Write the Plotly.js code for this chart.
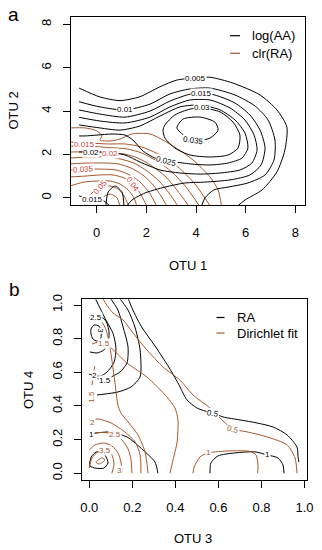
<!DOCTYPE html>
<html>
<head>
<meta charset="utf-8">
<script src="https://cdn.plot.ly/plotly-3.0.1.min.js"></script>
<style>html,body{margin:0;padding:0;background:#fff;}#chart{width:322px;height:550px;}</style>
</head>
<body>
<div id="chart"></div>
<script>
// ---------- Panel a: log(AA) contours (black) ----------
const aBlk005X = [-0.71,0.13,0.94,1.74,2.55,3.23,3.96,4.56,5.49,6.58,7.26,7.66,7.58,7.26,6.66,5.97,5.66];
const aBlk005Y = [5.06,4.65,4.48,4.66,5.12,5.43,5.52,5.56,5.29,4.74,4.05,3.26,2.20,1.19,0.36,-0.11,-0.40];
const aBlk010X = [-0.71,0.13,1.14,2.15,2.95,3.76,4.56,5.57,6.38,6.90,7.18,7.14,6.78,6.09,5.29,4.72,4.36,4.22];
const aBlk010Y = [4.43,4.19,4.05,4.32,4.79,5.02,5.06,4.74,4.23,3.59,2.66,1.74,1.05,0.68,0.49,0.36,-0.01,-0.40];
const aBlk015X = [-0.71,0.13,1.14,2.15,2.95,3.76,4.24,4.76,5.57,6.17,6.58,6.78,6.62,6.17,5.37,4.36,3.56,2.75,1.95,1.42,1.20];
const aBlk015Y = [4.05,3.86,3.72,4.00,4.46,4.78,4.83,4.74,4.37,3.82,3.12,2.29,1.51,1.05,0.82,0.72,0.68,0.49,0.22,-0.11,-0.40];
const aBlk015bX = [-0.71,-0.15,0.29,0.54];
const aBlk015bY = [0.08,-0.06,-0.15,-0.40];
const aBlk020X = [-0.71,0.13,1.14,2.15,2.95,3.76,4.56,5.37,5.97,6.34,6.46,6.25,5.77,4.97,4.16,3.36,2.55,1.74,1.14,0.33,-0.27,-0.71];
const aBlk020Y = [3.71,3.54,3.45,3.72,4.19,4.51,4.51,4.14,3.59,2.89,2.20,1.60,1.28,1.14,1.09,1.14,1.28,1.65,1.97,2.11,2.11,2.11];
const aBlk025X = [-0.71,0.13,0.94,1.74,2.55,3.36,4.16,4.97,5.57,5.97,6.09,5.85,5.29,4.56,3.76,3.15,2.83,2.35,1.87,1.46,1.14,0.62,0.01,-0.47,-0.71];
const aBlk025Y = [3.36,3.22,3.12,3.31,3.77,4.19,4.28,4.05,3.59,2.99,2.29,1.83,1.60,1.51,1.56,1.65,1.69,1.83,2.15,2.66,2.89,2.94,2.89,2.85,2.85];
const aBlk030X = [2.75,3.15,3.76,4.24,4.97,5.49,5.77,5.69,5.29,4.56,3.76,3.15,2.75,2.67,2.75];
const aBlk030Y = [3.36,3.82,4.09,4.14,3.96,3.49,2.89,2.29,1.97,1.88,1.97,2.29,2.75,3.12,3.36];
const aBlk035X = [3.23,3.48,4.16,4.76,4.89,4.56,4.16,3.56,3.23];
const aBlk035Y = [3.22,3.63,3.72,3.49,3.12,2.75,2.66,2.85,3.22];
const aBlkPeakX = [0.37,0.46,0.74,1.02,1.10];
const aBlkPeakY = [-0.40,0.26,0.54,0.26,-0.40];

// ---------- Panel a: clr(RA) contours (red/brown) ----------
const aRed005X = [-1.08,-0.47,0.01,0.21,0.13,0.54,0.94,1.42,2.15,3.07,3.88,4.56,4.89,5.03];
const aRed005Y = [3.22,3.22,3.08,2.85,2.66,2.62,2.71,2.94,2.94,2.39,1.74,0.96,0.36,-0.40];
const aRed010X = [-1.08,-0.27,0.46,1.14,1.82,2.55,3.27,3.96,4.58];
const aRed010Y = [2.57,2.52,2.48,2.48,2.34,1.97,1.42,0.63,-0.40];
const aRed015X = [-1.08,-0.27,0.54,1.22,1.82,2.43,3.03,3.60,4.15];
const aRed015Y = [2.38,2.38,2.31,2.25,2.06,1.69,1.19,0.49,-0.40];
const aRed020X = [-1.08,-0.27,0.54,1.10,1.66,2.23,2.75,3.23,3.72];
const aRed020Y = [2.11,2.11,2.06,2.02,1.83,1.46,1.00,0.36,-0.40];
const aRed025X = [-1.08,-0.27,0.42,0.94,1.50,2.03,2.51,2.91,3.28];
const aRed025Y = [1.83,1.88,1.88,1.79,1.60,1.23,0.77,0.22,-0.40];
const aRed030X = [-1.08,-0.35,0.33,0.86,1.38,1.86,2.27,2.59,2.83];
const aRed030Y = [1.56,1.60,1.60,1.56,1.37,1.05,0.59,0.08,-0.40];
const aRed035X = [-1.08,-0.35,0.21,0.78,1.26,1.70,2.07,2.27,2.42];
const aRed035Y = [1.28,1.32,1.32,1.28,1.09,0.77,0.31,-0.06,-0.40];
const aRed040X = [-1.08,-0.43,0.13,0.66,1.10,1.46,1.74,2.02];
const aRed040Y = [0.96,1.00,1.05,1.05,0.91,0.63,0.22,-0.40];
const aRed045X = [-1.08,-0.51,0.01,0.54,0.94,1.26,1.50,1.62];
const aRed045Y = [0.54,0.72,0.77,0.77,0.63,0.36,-0.01,-0.40];
const aRed050X = [-0.51,-0.27,0.13,0.54,0.86,1.10,1.30];
const aRed050Y = [-0.40,0.12,0.49,0.54,0.40,0.08,-0.40];
const aRed055X = [0.01,0.21,0.54,0.82,0.94];
const aRed055Y = [-0.40,-0.01,0.17,-0.01,-0.40];

// contour labels, panel a
const aBlkLabelText = ["0.005","0.01","0.015","0.03","0.035","0.025","0.02","0.015"];
const aBlkLabelX = [3.96,1.14,4.24,4.24,3.88,2.83,-0.22,-0.15];
const aBlkLabelY = [5.52,4.05,4.83,4.14,2.66,1.69,2.08,-0.06];
const aRedLabelText = ["0.015","0.02","0.035","0.05","0.04"];
const aRedLabelX = [-0.50,0.54,-0.55,0.13,1.46];
const aRedLabelY = [2.44,2.06,1.30,0.49,0.63];

// ---------- Panel b: RA contours (black) ----------
const bBlk3X = [0.008,0.022,0.045,0.054,0.054,0.036,0.017,0.008,0.008];
const bBlk3Y = [0.857,0.881,0.875,0.846,0.804,0.786,0.798,0.828,0.857];
const bBlk25X = [-0.001,0.031,0.064,0.082,0.092,0.087,0.068,0.036,0.003];
const bBlk25Y = [0.923,0.923,0.923,0.893,0.834,0.774,0.733,0.715,0.721];
const bBlk2X = [0.020,0.078,0.110,0.124,0.115,0.082,0.050,0.022,-0.001];
const bBlk2Y = [1.060,0.909,0.832,0.743,0.660,0.601,0.577,0.583,0.589];
const bBlk15X = [0.087,0.133,0.157,0.180,0.175,0.143,0.110,0.073,0.031,0.008];
const bBlk15Y = [1.060,0.970,0.869,0.750,0.655,0.602,0.578,0.554,0.566,0.584];
const bBlk1aX = [0.129,0.180,0.212,0.236,0.236,0.194,0.133,0.073,0.036];
const bBlk1aY = [1.060,0.970,0.869,0.733,0.573,0.513,0.483,0.471,0.465];
const bBlk05X = [0.175,0.194,0.240,0.305,0.366,0.412,0.454,0.500,0.538,0.575,0.621,0.700,0.779,0.854,0.919,0.965,0.970,0.974];
const bBlk05Y = [1.060,0.995,0.876,0.757,0.638,0.537,0.436,0.388,0.370,0.358,0.335,0.317,0.299,0.275,0.228,0.156,0.097,0.067];
const bBlk1bX = [0.561,0.565,0.598,0.677,0.770,0.826,0.877,0.900,0.905];
const bBlk1bY = [0.000,0.061,0.103,0.121,0.127,0.109,0.091,0.049,0.000];
const bBlk1cX = [0.003,0.036,0.096,0.175,0.250,0.305,0.319];
const bBlk1cY = [0.234,0.240,0.245,0.216,0.138,0.067,0.000];
const bBlkInX = [0.002,0.009,0.033,0.064,0.078,0.087,0.068,0.031,0.003,0.002];
const bBlkInY = [0.061,0.097,0.127,0.121,0.097,0.061,0.031,0.030,0.043,0.061];

// ---------- Panel b: Dirichlet fit contours (brown) ----------
const bDir05X = [0.054,0.078,0.110,0.157,0.203,0.268,0.342,0.421,0.482,0.561,0.621,0.668,0.733,0.826,0.919,0.956,0.965];
const bDir05Y = [1.060,1.006,0.953,0.911,0.834,0.733,0.632,0.554,0.465,0.388,0.311,0.263,0.246,0.216,0.169,0.091,0.000];
const bDirVX = [0.026,0.059,0.078,0.092,0.105,0.119,0.133,0.147,0.184,0.226,0.259,0.273];
const bDirVY = [0.923,0.899,0.851,0.780,0.673,0.542,0.406,0.358,0.299,0.228,0.127,0.000];
const bDirDX = [0.013,0.050,0.096,0.175,0.268,0.361,0.398,0.412,0.408,0.389,0.375];
const bDirDY = [0.768,0.780,0.750,0.655,0.572,0.453,0.388,0.317,0.186,0.079,0.000];
const bDirLX = [0.013,0.017,0.026];
const bDirLY = [0.524,0.584,0.637];
const bDir2X = [0.000,0.040,0.101,0.166,0.213,0.236,0.240];
const bDir2Y = [0.317,0.323,0.299,0.245,0.186,0.109,0.000];
const bDir25X = [0.000,0.031,0.087,0.120,0.152,0.180,0.194,0.198];
const bDir25Y = [0.216,0.240,0.240,0.228,0.198,0.145,0.079,0.000];
const bDir3X = [0.000,0.026,0.068,0.105,0.133,0.147,0.152];
const bDir3Y = [0.138,0.168,0.180,0.162,0.121,0.067,0.000];
const bDir35X = [0.000,0.013,0.040,0.078,0.105,0.115,0.105];
const bDir35Y = [0.031,0.091,0.127,0.138,0.109,0.055,0.000];
const bDir4X = [0.031,0.059,0.073,0.045,0.031];
const bDir4Y = [0.067,0.091,0.079,0.055,0.067];
const bDir1X = [0.482,0.487,0.514,0.552,0.654,0.747,0.775,0.784,0.782];
const bDir1Y = [0.000,0.037,0.097,0.121,0.133,0.130,0.109,0.043,0.000];

// contour labels, panel b
const bBlkLabelText = ["2.5","3","2","1.5","0.5","1","1"];
const bBlkLabelX = [0.031,0.048,0.022,0.073,0.575,0.830,0.008];
const bBlkLabelY = [0.923,0.846,0.583,0.554,0.358,0.109,0.228];
const bDirLabelText = ["1.5","1.5","0.5","1","2","2.5","3.5","3"];
const bDirLabelX = [0.068,0.006,0.668,0.552,0.017,0.120,0.073,0.140];
const bDirLabelY = [0.770,0.453,0.263,0.121,0.300,0.228,0.138,0.015];

// ---------- axes ticks ----------
const aTicks = [0,2,4,6,8];
const bTicks = [0,0.2,0.4,0.6,0.8,1.0];
const bTickText = ["0.0","0.2","0.4","0.6","0.8","1.0"];

// ---------- styling ----------
const BLACK = "#000000";
const BROWN = "#A5582C";
const REDLAB = "#D0453A";
const FONT = "Liberation Sans, Arial, Helvetica, sans-serif";

function line(xs, ys, color, ax) {
  return {
    type: "scatter", mode: "lines", x: xs, y: ys,
    xaxis: ax === "b" ? "x2" : "x", yaxis: ax === "b" ? "y2" : "y",
    line: {color: color, width: 1, shape: "spline", smoothing: 0.7},
    hoverinfo: "skip", showlegend: false
  };
}

const traces = [
  line(aRed005X, aRed005Y, BROWN, "a"), line(aRed010X, aRed010Y, BROWN, "a"),
  line(aRed015X, aRed015Y, BROWN, "a"), line(aRed020X, aRed020Y, BROWN, "a"),
  line(aRed025X, aRed025Y, BROWN, "a"), line(aRed030X, aRed030Y, BROWN, "a"),
  line(aRed035X, aRed035Y, BROWN, "a"), line(aRed040X, aRed040Y, BROWN, "a"),
  line(aRed045X, aRed045Y, BROWN, "a"), line(aRed050X, aRed050Y, BROWN, "a"),
  line(aRed055X, aRed055Y, BROWN, "a"),
  line(aBlk005X, aBlk005Y, BLACK, "a"), line(aBlk010X, aBlk010Y, BLACK, "a"),
  line(aBlk015X, aBlk015Y, BLACK, "a"), line(aBlk015bX, aBlk015bY, BLACK, "a"),
  line(aBlk020X, aBlk020Y, BLACK, "a"), line(aBlk025X, aBlk025Y, BLACK, "a"),
  line(aBlk030X, aBlk030Y, BLACK, "a"), line(aBlk035X, aBlk035Y, BLACK, "a"),
  line(aBlkPeakX, aBlkPeakY, BLACK, "a"),
  line(bBlk3X, bBlk3Y, BLACK, "b"), line(bBlk25X, bBlk25Y, BLACK, "b"),
  line(bBlk2X, bBlk2Y, BLACK, "b"), line(bBlk15X, bBlk15Y, BLACK, "b"),
  line(bBlk1aX, bBlk1aY, BLACK, "b"), line(bBlk05X, bBlk05Y, BLACK, "b"),
  line(bBlk1bX, bBlk1bY, BLACK, "b"), line(bBlk1cX, bBlk1cY, BLACK, "b"),
  line(bBlkInX, bBlkInY, BLACK, "b"),
  line(bDir05X, bDir05Y, BROWN, "b"), line(bDirVX, bDirVY, BROWN, "b"),
  line(bDirDX, bDirDY, BROWN, "b"), line(bDirLX, bDirLY, BROWN, "b"),
  line(bDir2X, bDir2Y, BROWN, "b"), line(bDir25X, bDir25Y, BROWN, "b"),
  line(bDir3X, bDir3Y, BROWN, "b"), line(bDir35X, bDir35Y, BROWN, "b"),
  line(bDir4X, bDir4Y, BROWN, "b"), line(bDir1X, bDir1Y, BROWN, "b")
];

const annotations = [];
function addLabels(texts, xs, ys, color, ax, angles) {
  texts.forEach((t, i) => {
    annotations.push({
      text: t, x: xs[i], y: ys[i],
      xref: ax === "b" ? "x2" : "x", yref: ax === "b" ? "y2" : "y",
      showarrow: false, font: {family: FONT, size: 8, color: color},
      bgcolor: "#ffffff", borderpad: 0, textangle: angles[i] || 0,
      xanchor: "center", yanchor: "middle"
    });
  });
}
addLabels(aBlkLabelText, aBlkLabelX, aBlkLabelY, BLACK, "a", [0,0,0,0,8,15,0,0]);
addLabels(aRedLabelText, aRedLabelX, aRedLabelY, REDLAB, "a", [0,0,-5,-50,55]);
addLabels(bBlkLabelText, bBlkLabelX, bBlkLabelY, BLACK, "b", [0,90,0,0,10,0,0]);
addLabels(bDirLabelText, bDirLabelX, bDirLabelY, BROWN, "b", [0,-90,15,0,0,0,0,0]);

function paperText(t, px, py, size, angle) {
  annotations.push({
    text: t, x: px / 322, y: 1 - py / 550, xref: "paper", yref: "paper",
    showarrow: false, font: {family: FONT, size: size, color: "#000"},
    textangle: angle || 0, xanchor: "center", yanchor: "middle"
  });
}
paperText("a", 13, 14, 19);
paperText("b", 14, 289, 19);
paperText("OTU 1", 188, 265, 13);
paperText("OTU 2", 13.5, 111, 13, -90);
paperText("OTU 3", 193, 538, 13);
paperText("OTU 4", 28, 390, 13, -90);

function legendText(t, px, py) {
  annotations.push({
    text: t, x: px / 322, y: 1 - py / 550, xref: "paper", yref: "paper",
    showarrow: false, font: {family: FONT, size: 13, color: "#000"},
    xanchor: "left", yanchor: "middle"
  });
}
legendText("log(AA)", 250, 35.7);
legendText("clr(RA)", 250, 53.3);
legendText("RA", 234.5, 317.5);
legendText("Dirichlet fit", 234.5, 333);

function legendDash(x0, x1, py, color) {
  return {type: "line", xref: "paper", yref: "paper",
    x0: x0 / 322, x1: x1 / 322, y0: 1 - py / 550, y1: 1 - py / 550,
    line: {color: color, width: 1.2}};
}
const shapes = [
  legendDash(230, 240, 35.7, BLACK), legendDash(230, 240, 53.3, BROWN),
  legendDash(216.5, 224.5, 317.5, BLACK), legendDash(216.5, 224.5, 333, BROWN)
];

const axisBase = {
  showgrid: false, zeroline: false, showline: true, mirror: true,
  linecolor: "#000", linewidth: 1, ticks: "outside", ticklen: 7,
  tickwidth: 1, tickcolor: "#000",
  tickfont: {family: FONT, size: 13, color: "#000"}
};

const layout = {
  width: 322, height: 550,
  margin: {l: 0, r: 0, t: 0, b: 0},
  paper_bgcolor: "#fff", plot_bgcolor: "#fff",
  showlegend: false,
  xaxis: Object.assign({}, axisBase, {
    domain: [71 / 322, 305 / 322], range: [-1.035, 8.39],
    tickvals: aTicks, anchor: "y", ticklabelstandoff: 8
  }),
  yaxis: Object.assign({}, axisBase, {
    domain: [1 - 205 / 550, 1 - 17 / 550], range: [-0.337, 8.34],
    tickvals: aTicks, tickangle: -90, anchor: "x", ticklabelstandoff: 7
  }),
  xaxis2: Object.assign({}, axisBase, {
    domain: [81.7 / 322, 306.7 / 322], range: [-0.0353, 1.0102],
    tickvals: bTicks, ticktext: bTickText, anchor: "y2", ticklabelstandoff: 8
  }),
  yaxis2: Object.assign({}, axisBase, {
    domain: [1 - 480 / 550, 1 - 299.3 / 550], range: [-0.040, 1.034],
    tickvals: bTicks, ticktext: bTickText, tickangle: -90, anchor: "x2", ticklabelstandoff: 7
  }),
  annotations: annotations,
  shapes: shapes
};

Plotly.newPlot("chart", traces, layout, {staticPlot: true, displayModeBar: false});
</script>
</body>
</html>
